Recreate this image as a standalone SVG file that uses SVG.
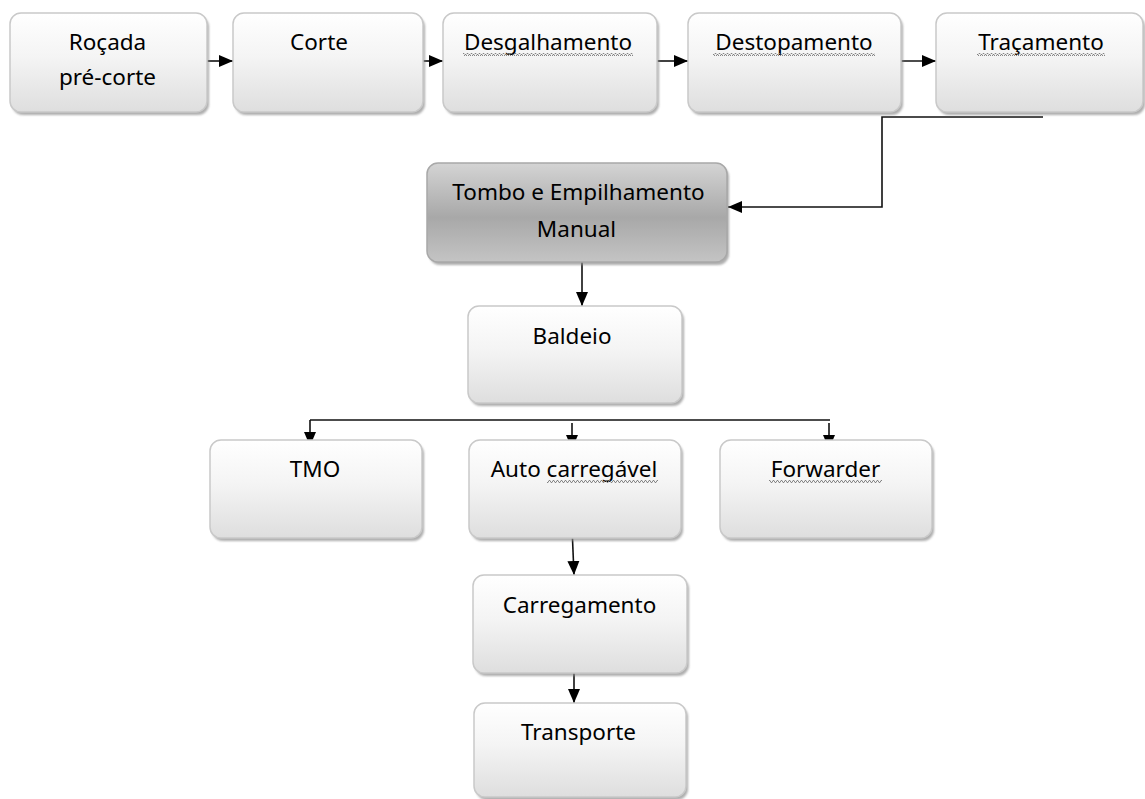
<svg xmlns="http://www.w3.org/2000/svg" width="1145" height="799" viewBox="0 0 1145 799">
<defs>
<linearGradient id="gLight" x1="0" y1="0" x2="0" y2="1">
<stop offset="0" stop-color="#ffffff"/>
<stop offset="0.45" stop-color="#f4f4f4"/>
<stop offset="1" stop-color="#dedede"/>
</linearGradient>
<linearGradient id="gDark" x1="0" y1="0" x2="0" y2="1">
<stop offset="0" stop-color="#d4d4d4"/>
<stop offset="0.55" stop-color="#a8a8a8"/>
<stop offset="1" stop-color="#c4c4c4"/>
</linearGradient>
<filter id="sh" x="-5%" y="-5%" width="115%" height="120%">
<feGaussianBlur stdDeviation="1"/>
</filter>
<marker id="ah" markerUnits="userSpaceOnUse" markerWidth="16" markerHeight="14" refX="14" refY="7" orient="auto">
<path d="M0,1 L14,7 L0,13 Z" fill="#000"/>
</marker>
<pattern id="wavy" patternUnits="userSpaceOnUse" width="4" height="3">
<polyline points="0,2.5 1,0.5 2,0.5 3,2.5 4,2.5" fill="none" stroke="#7a7a7a" stroke-width="0.9"/>
</pattern>
</defs>
<style>
.box{fill:url(#gLight);stroke:#c9c9c9;stroke-width:1.5}
.dark{fill:url(#gDark);stroke:#a8a8a8;stroke-width:1.5}
.shadow{fill:#8c8c8c;opacity:0.7;filter:url(#sh)}
.t{font-family:"Noto Sans","Open Sans","DejaVu Sans",sans-serif;font-size:22.5px;fill:#000;text-anchor:middle}
.c{fill:none;stroke:#111;stroke-width:1.6;marker-end:url(#ah)}
.cl{fill:none;stroke:#111;stroke-width:1.6}
.wv{fill:url(#wavy)}
</style>

<g id="connectors">
<line class="c" x1="207" y1="61" x2="233" y2="61"/>
<line class="c" x1="423" y1="61" x2="443" y2="61"/>
<line class="c" x1="657" y1="61" x2="688" y2="61"/>
<line class="c" x1="901" y1="61" x2="936" y2="61"/>
<path class="c" d="M1043,117 H882 V207 H728"/>
<line class="c" x1="582" y1="262" x2="582" y2="306"/>
<path class="cl" d="M310,420 H830"/>
<line class="c" x1="310" y1="420" x2="310" y2="446"/>
<line class="c" x1="572" y1="423" x2="572" y2="449"/>
<line class="c" x1="829" y1="423" x2="829" y2="449"/>
<line class="c" x1="572" y1="527" x2="574" y2="575"/>
<line class="c" x1="574" y1="655" x2="574" y2="703"/>
</g>

<g id="rocada">
<rect class="shadow" x="12" y="16" width="197" height="99" rx="11"/>
<rect class="box" x="10" y="13" width="197" height="99" rx="11"/>
<text class="t" x="107.5" y="50">Roçada</text>
<text class="t" x="107.5" y="85">pré-corte</text>
</g>

<g id="corte">
<rect class="shadow" x="235" y="16" width="190" height="99" rx="11"/>
<rect class="box" x="233" y="13" width="190" height="99" rx="11"/>
<text class="t" x="319" y="50">Corte</text>
</g>

<g id="desgalhamento">
<rect class="shadow" x="445" y="16" width="214" height="99" rx="11"/>
<rect class="box" x="443" y="13" width="214" height="99" rx="11"/>
<text class="t" x="548" y="50">Desgalhamento</text>
<rect class="wv" x="463" y="53" width="170" height="3"/>
</g>

<g id="destopamento">
<rect class="shadow" x="690" y="16" width="213" height="99" rx="11"/>
<rect class="box" x="688" y="13" width="213" height="99" rx="11"/>
<text class="t" x="794" y="50">Destopamento</text>
<rect class="wv" x="713" y="53" width="162" height="3"/>
</g>

<g id="tracamento">
<rect class="shadow" x="938" y="16" width="207" height="99" rx="11"/>
<rect class="box" x="936" y="13" width="207" height="99" rx="11"/>
<text class="t" x="1041" y="50">Traçamento</text>
<rect class="wv" x="977" y="53" width="128" height="3"/>
</g>

<g id="tombo">
<rect class="shadow" x="429" y="166" width="300" height="99" rx="11"/>
<rect class="dark" x="427" y="163" width="300" height="99" rx="11"/>
<text class="t" x="578.5" y="200">Tombo e Empilhamento</text>
<text class="t" x="576.5" y="237">Manual</text>
</g>

<g id="baldeio">
<rect class="shadow" x="470" y="309" width="214" height="97" rx="11"/>
<rect class="box" x="468" y="306" width="214" height="97" rx="11"/>
<text class="t" x="572" y="344">Baldeio</text>
</g>

<g id="tmo">
<rect class="shadow" x="212" y="443" width="212" height="98" rx="11"/>
<rect class="box" x="210" y="440" width="212" height="98" rx="11"/>
<text class="t" x="315" y="477">TMO</text>
</g>

<g id="autocarregavel">
<rect class="shadow" x="471" y="443" width="212" height="98" rx="11"/>
<rect class="box" x="469" y="440" width="212" height="98" rx="11"/>
<text class="t" x="574" y="477">Auto carregável</text>
<rect class="wv" x="547" y="480" width="111" height="3"/>
</g>

<g id="forwarder">
<rect class="shadow" x="722" y="443" width="212" height="98" rx="11"/>
<rect class="box" x="720" y="440" width="212" height="98" rx="11"/>
<text class="t" x="825.5" y="477">Forwarder</text>
<rect class="wv" x="769" y="480" width="113" height="3"/>
</g>

<g id="carregamento">
<rect class="shadow" x="475" y="578" width="214" height="98" rx="11"/>
<rect class="box" x="473" y="575" width="214" height="98" rx="11"/>
<text class="t" x="579.5" y="613">Carregamento</text>
</g>

<g id="transporte">
<rect class="shadow" x="476" y="706" width="212" height="94" rx="11"/>
<rect class="box" x="474" y="703" width="212" height="94" rx="11"/>
<text class="t" x="578.5" y="740">Transporte</text>
</g>
</svg>
